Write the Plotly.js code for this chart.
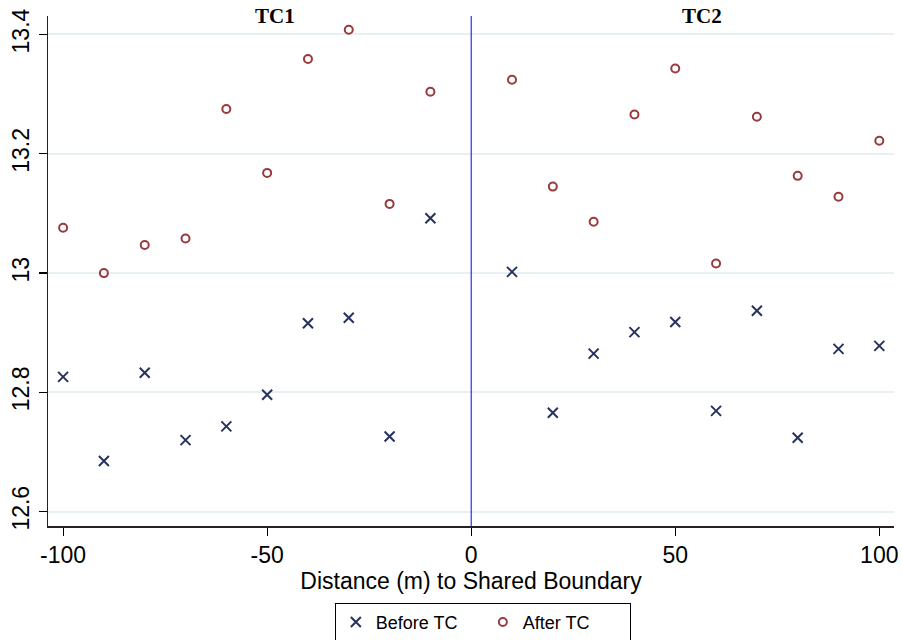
<!DOCTYPE html>
<html>
<head>
<meta charset="utf-8">
<script src="https://cdn.plot.ly/plotly-3.0.1.min.js"></script>
<style>html,body{margin:0;padding:0;background:#fff;}#chart{width:902px;height:640px;}</style>
</head>
<body>
<div id="chart"></div>
<script>
const distance = [-100,-90,-80,-70,-60,-50,-40,-30,-20,-10,10,20,30,40,50,60,70,80,90,100];
const beforeTC = [12.826,12.685,12.833,12.720,12.743,12.796,12.916,12.925,12.726,13.092,
                  13.002,12.766,12.865,12.901,12.918,12.769,12.937,12.724,12.873,12.878];
const afterTC  = [13.076,13.000,13.047,13.058,13.275,13.168,13.359,13.408,13.116,13.304,
                  13.324,13.145,13.086,13.266,13.343,13.016,13.262,13.163,13.128,13.222];
const xTicks = [-100,-50,0,50,100];
const yTicks = [12.6,12.8,13.0,13.2,13.4];
const yTickText = ['12.6','12.8','13','13.2','13.4'];
const panelLabels = ['TC1','TC2'];
const panelLabelX = [-48.2,56.5];
const seriesNames = ['Before TC','After TC'];

const sans = 'Liberation Sans, Arial, Helvetica, sans-serif';

const traces = [
  {x: distance, y: beforeTC, type:'scatter', mode:'markers', name: seriesNames[0],
   marker:{symbol:'x-thin-open', size:10, color:'#27335f', line:{color:'#27335f', width:2}}},
  {x: distance, y: afterTC, type:'scatter', mode:'markers', name: seriesNames[1],
   marker:{symbol:'circle-open', size:8, color:'#983a3f', line:{color:'#983a3f', width:2}}}
];

const layout = {
  width: 902, height: 640,
  margin: {l:48, r:8, t:16, b:114},
  paper_bgcolor:'#fff', plot_bgcolor:'#fff',
  showlegend: true,
  legend: {orientation:'h', xref:'paper', x:0.514, xanchor:'center',
           yref:'container', y:0.058, yanchor:'top',
           bordercolor:'#000', borderwidth:1, font:{family:sans, size:18, color:'#000'},
           itemwidth:30, entrywidth:102, traceorder:'normal'},
  xaxis: {range:[-103.7,103.6], tickvals: xTicks, ticktext: xTicks.map(String),
          ticks:'outside', ticklen:8, tickwidth:1.2, tickcolor:'#000',
          showline:true, linecolor:'#222', linewidth:1.5, showgrid:false, zeroline:false,
          tickfont:{family:sans, size:23, color:'#000'},
          title:{text:'Distance (m) to Shared Boundary', font:{family:sans, size:23, color:'#000'}, standoff:6}},
  yaxis: {range:[12.576,13.431], tickvals: yTicks, ticktext: yTickText,
          ticks:'outside', ticklen:8, tickwidth:1.2, tickcolor:'#000', tickangle:-90,
          showline:true, linecolor:'#222', linewidth:1.5, showgrid:true, gridcolor:'#e9f0f2', gridwidth:2,
          zeroline:false, tickfont:{family:sans, size:23, color:'#000'}},
  shapes: [{type:'line', xref:'x', yref:'paper', x0:0, x1:0, y0:0, y1:1,
            line:{color:'#0000ff', width:1}}],
  annotations: panelLabels.map((t,i)=>({text:'<b>'+t+'</b>', xref:'x', yref:'paper',
            x: panelLabelX[i], y:1.0, yanchor:'middle', xanchor:'center', showarrow:false,
            font:{family:'Liberation Serif, Times New Roman, serif', size:21, color:'#000'}}))
};

Plotly.newPlot('chart', traces, layout, {displayModeBar:false, staticPlot:true});
</script>
</body>
</html>
